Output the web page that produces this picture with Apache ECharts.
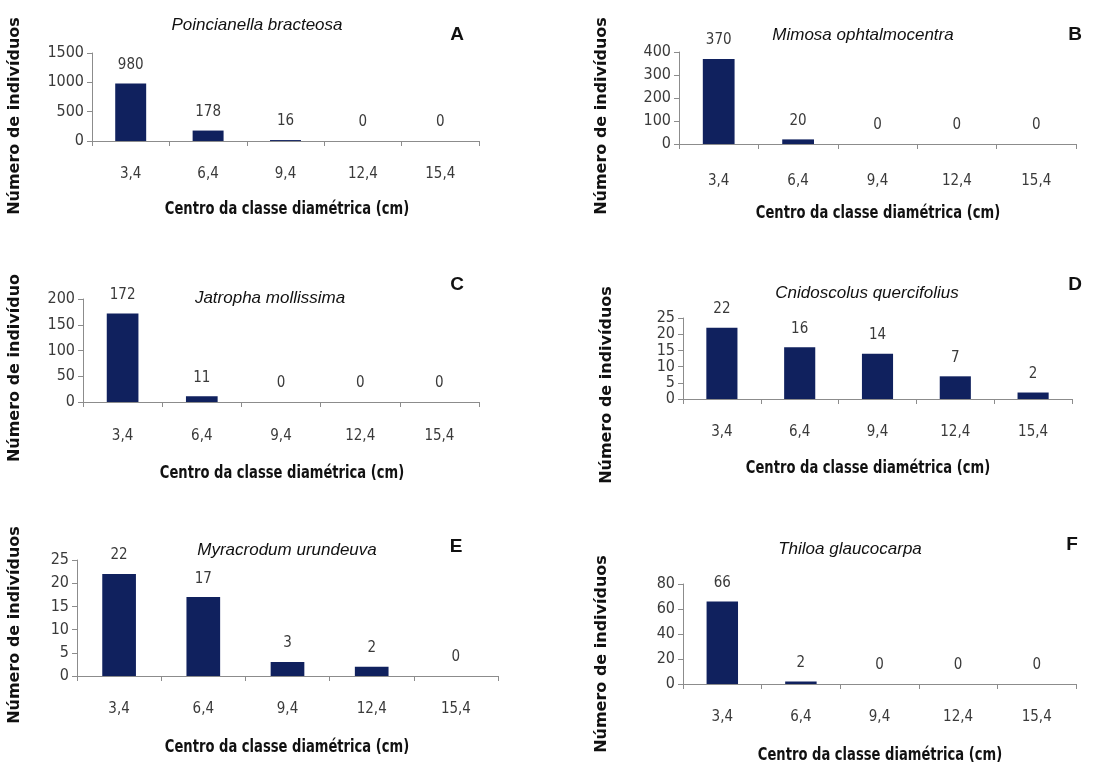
<!DOCTYPE html>
<html>
<head>
<meta charset="utf-8">
<script src="https://cdn.jsdelivr.net/npm/echarts@6/dist/echarts.min.js"></script>
<style>
html,body{margin:0;padding:0;background:#fff;}
#c{width:1105px;height:765px;}
</style>
</head>
<body>
<div id="c"></div>
<script>
const categories = ['3,4', '6,4', '9,4', '12,4', '15,4'];
const valuesA = [980, 178, 16, 0, 0];
const valuesB = [370, 20, 0, 0, 0];
const valuesC = [172, 11, 0, 0, 0];
const valuesD = [22, 16, 14, 7, 2];
const valuesE = [22, 17, 3, 2, 0];
const valuesF = [66, 2, 0, 0, 0];
const species = ['Poincianella bracteosa', 'Mimosa ophtalmocentra', 'Jatropha mollissima', 'Cnidoscolus quercifolius', 'Myracrodum urundeuva', 'Thiloa glaucocarpa'];
const letters = ['A', 'B', 'C', 'D', 'E', 'F'];
const yMax = [1500, 400, 200, 25, 25, 80];
const yStep = [500, 100, 50, 5, 5, 20];
const yTitles = ['Número de indivíduos', 'Número de indivíduos', 'Número de indivíduo', 'Número de indivíduos', 'Número de indivíduos', 'Número de indivíduos'];
const xTitle = 'Centro da classe diamétrica (cm)';

const allValues = [valuesA, valuesB, valuesC, valuesD, valuesE, valuesF];

// layout (pixels)
const grids = [
  {left: 92, top: 53, width: 387, height: 88},
  {left: 679, top: 52, width: 397, height: 92},
  {left: 83, top: 299, width: 396, height: 103},
  {left: 683, top: 318, width: 389, height: 81},
  {left: 77, top: 560, width: 421, height: 116},
  {left: 683, top: 584, width: 393, height: 100}
];
const letterPos = [[457, 35], [1075, 35], [457, 285], [1075, 285], [456, 547], [1072, 545]];
const titlePos = [[257, 25], [863, 35], [270, 298], [867, 293], [287, 550], [850, 549]];
const xTitlePos = [[287, 209], [878, 213], [282, 473], [868, 468], [287, 747], [880, 755]];
const yTitlePos = [[15, 116], [602, 116], [15, 368], [607, 385], [15, 625], [602, 654]];
const xLabelMargin = [26, 30, 27, 26, 26, 26];

const barColor = '#10215e';
const axisColor = '#8c8c8c';
const tickFont = "'DejaVu Sans Condensed', 'DejaVu Sans', sans-serif";

const option = {
  backgroundColor: '#ffffff',
  animation: false,
  grid: grids.map(g => Object.assign({containLabel: false}, g)),
  xAxis: grids.map((g, i) => ({
    type: 'category',
    gridIndex: i,
    data: categories,
    boundaryGap: true,
    axisLine: {show: true, lineStyle: {color: axisColor, width: 1}},
    axisTick: {show: true, length: 5, lineStyle: {color: axisColor}},
    axisLabel: {color: '#3a3a3a', fontFamily: tickFont, fontSize: 15, margin: xLabelMargin[i]},
    splitLine: {show: false}
  })),
  yAxis: grids.map((g, i) => ({
    type: 'value',
    gridIndex: i,
    min: 0,
    max: yMax[i],
    interval: yStep[i],
    axisLine: {show: true, lineStyle: {color: axisColor, width: 1}},
    axisTick: {show: true, length: 5, lineStyle: {color: axisColor}},
    axisLabel: {color: '#3a3a3a', fontFamily: tickFont, fontSize: 16, margin: 8, formatter: v => String(v)},
    splitLine: {show: false}
  })),
  series: allValues.map((vals, i) => ({
    type: 'bar',
    xAxisIndex: i,
    yAxisIndex: i,
    data: vals,
    barWidth: '40%',
    itemStyle: {color: barColor},
    label: {show: true, position: 'top', distance: 11, color: '#3a3a3a', fontFamily: tickFont, fontSize: 15}
  })),
  graphic: []
};

for (let i = 0; i < 6; i++) {
  option.graphic.push({
    type: 'text', x: titlePos[i][0], y: titlePos[i][1],
    style: {text: species[i], fill: '#111', font: "italic 17px 'Liberation Sans', Arial, sans-serif", textAlign: 'center', textVerticalAlign: 'middle'}
  });
  option.graphic.push({
    type: 'text', x: letterPos[i][0], y: letterPos[i][1],
    style: {text: letters[i], fill: '#111', font: "bold 19px 'Liberation Sans', Arial, sans-serif", textAlign: 'center', textVerticalAlign: 'middle'}
  });
  option.graphic.push({
    type: 'text', x: xTitlePos[i][0], y: xTitlePos[i][1], scaleX: 0.81,
    style: {text: xTitle, fill: '#111', font: "bold 18px 'DejaVu Sans Condensed', 'DejaVu Sans', sans-serif", textAlign: 'center', textVerticalAlign: 'middle'}
  });
  option.graphic.push({
    type: 'text', x: yTitlePos[i][0], y: yTitlePos[i][1], rotation: Math.PI / 2,
    style: {text: yTitles[i], fill: '#111', font: "bold 16px 'DejaVu Sans', sans-serif", textAlign: 'center', textVerticalAlign: 'middle'}
  });
}

const chart = echarts.init(document.getElementById('c'), null, {renderer: 'canvas'});
chart.setOption(option);
</script>
</body>
</html>
